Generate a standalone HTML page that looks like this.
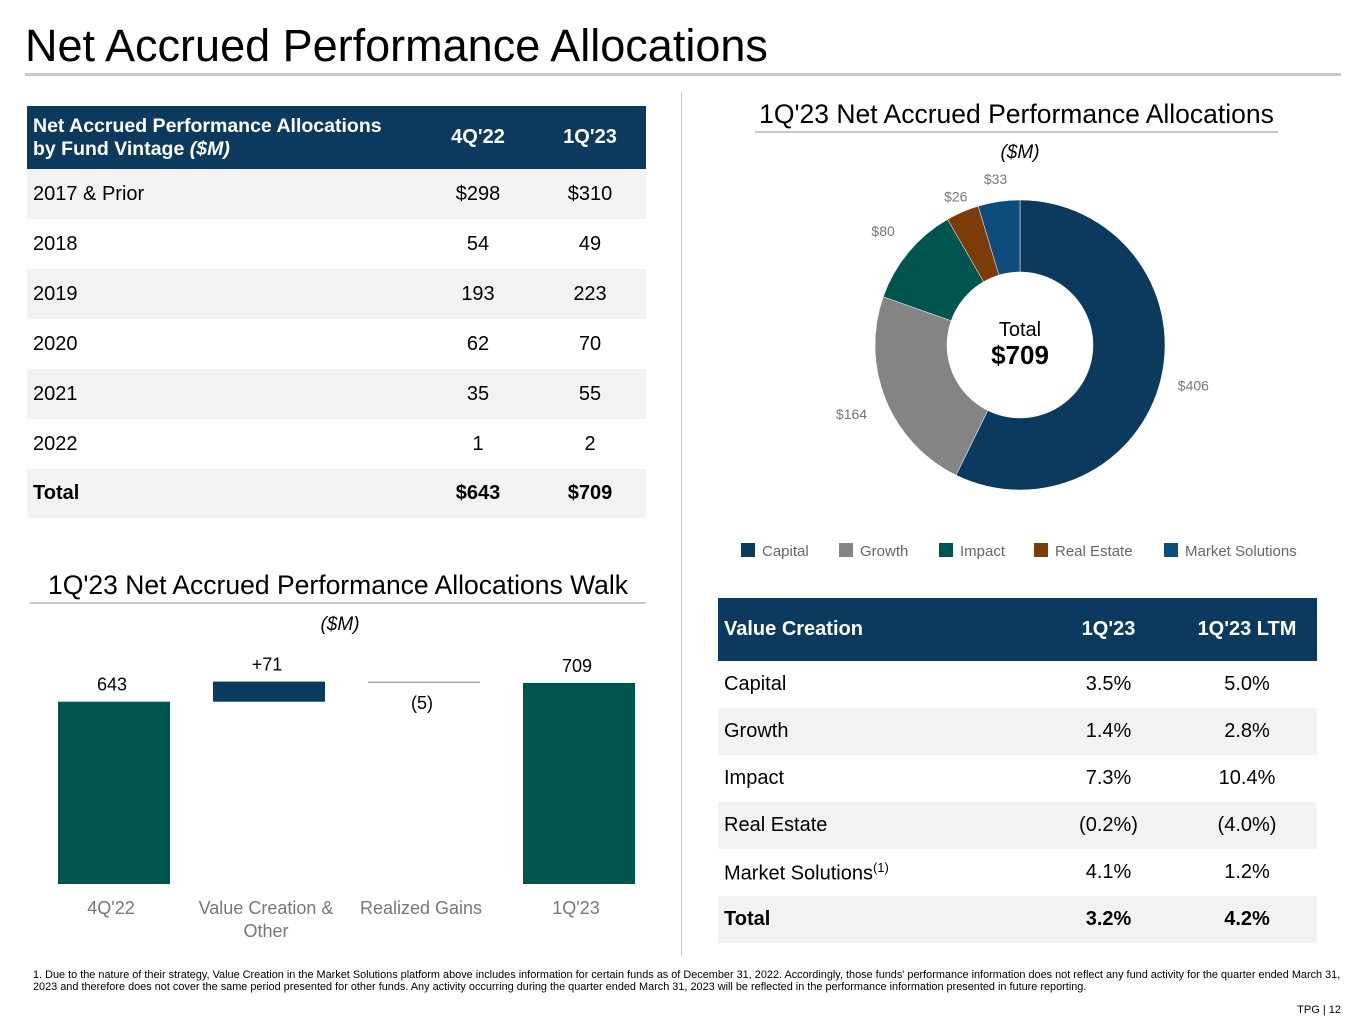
<!DOCTYPE html>
<html><head><meta charset="utf-8"><style>
body{margin:0;width:1365px;height:1024px;background:#fff;font-family:"Liberation Sans",sans-serif;position:relative;overflow:hidden;color:#000}
.abs{position:absolute}
table{border-collapse:collapse;position:absolute}
td{padding:0 6px;font-size:20px}
</style></head><body>
<div class="abs" style="left:25px;top:20px;font-size:45px">Net Accrued Performance Allocations</div>
<div class="abs" style="left:25px;top:73px;width:1316px;height:3px;background:#c8c8c8"></div>
<div class="abs" style="left:681px;top:92px;width:1px;height:864px;background:#d0d0d0"></div>

<table style="left:27px;top:106px;width:619px">
<tr style="background:#0b3a5e;color:#fff;height:63px;font-weight:bold"><td style="font-size:19.5px;padding-left:6px">Net Accrued Performance Allocations<br>by Fund Vintage <i>($M)</i></td><td style="text-align:center;width:100px">4Q'22</td><td style="text-align:center;width:100px">1Q'23</td></tr>
<tr style="background:#f2f2f2;height:50px"><td>2017 &amp; Prior</td><td style="text-align:center">$298</td><td style="text-align:center">$310</td></tr>
<tr style="height:50px"><td>2018</td><td style="text-align:center">54</td><td style="text-align:center">49</td></tr>
<tr style="background:#f2f2f2;height:50px"><td>2019</td><td style="text-align:center">193</td><td style="text-align:center">223</td></tr>
<tr style="height:50px"><td>2020</td><td style="text-align:center">62</td><td style="text-align:center">70</td></tr>
<tr style="background:#f2f2f2;height:50px"><td>2021</td><td style="text-align:center">35</td><td style="text-align:center">55</td></tr>
<tr style="height:50px"><td>2022</td><td style="text-align:center">1</td><td style="text-align:center">2</td></tr>
<tr style="background:#f2f2f2;height:49px;font-weight:bold"><td>Total</td><td style="text-align:center">$643</td><td style="text-align:center">$709</td></tr>
</table>

<div class="abs" style="left:745px;top:99px;width:543px;text-align:center;font-size:26.5px">1Q'23 Net Accrued Performance Allocations</div>
<div class="abs" style="left:755px;top:131px;width:523px;height:2px;background:#c8c8c8"></div>
<div class="abs" style="left:955px;top:142px;width:130px;text-align:center;font-size:19px;font-style:italic">($M)</div>
<svg id="donut" class="abs" style="left:0;top:0" width="1365" height="1024"></svg>

<div class="abs" style="left:20px;top:570px;width:636px;text-align:center;font-size:26.5px">1Q'23 Net Accrued Performance Allocations Walk</div>
<div class="abs" style="left:30px;top:602px;width:616px;height:2px;background:#c8c8c8"></div>
<div class="abs" style="left:275px;top:614px;width:130px;text-align:center;font-size:19px;font-style:italic">($M)</div>
<svg id="walk" class="abs" style="left:0;top:0" width="1365" height="1024"></svg>

<table style="left:718px;top:598px;width:599px">
<tr style="background:#0b3a5e;color:#fff;height:63px;font-weight:bold"><td>Value Creation</td><td style="text-align:center;width:125px">1Q'23</td><td style="text-align:center;width:128px">1Q'23 LTM</td></tr>
<tr style="height:47px"><td>Capital</td><td style="text-align:center">3.5%</td><td style="text-align:center">5.0%</td></tr>
<tr style="background:#f2f2f2;height:47px"><td>Growth</td><td style="text-align:center">1.4%</td><td style="text-align:center">2.8%</td></tr>
<tr style="height:47px"><td>Impact</td><td style="text-align:center">7.3%</td><td style="text-align:center">10.4%</td></tr>
<tr style="background:#f2f2f2;height:47px"><td>Real Estate</td><td style="text-align:center">(0.2%)</td><td style="text-align:center">(4.0%)</td></tr>
<tr style="height:47px"><td>Market Solutions<sup style="font-size:13px">(1)</sup></td><td style="text-align:center">4.1%</td><td style="text-align:center">1.2%</td></tr>
<tr style="background:#f2f2f2;height:47px;font-weight:bold"><td>Total</td><td style="text-align:center">3.2%</td><td style="text-align:center">4.2%</td></tr>
</table>

<div class="abs" style="left:33px;top:969px;width:1312px;font-size:10.9px;line-height:12px">1. Due to the nature of their strategy, Value Creation in the Market Solutions platform above includes information for certain funds as of December 31, 2022. Accordingly, those funds' performance information does not reflect any fund activity for the quarter ended March 31, 2023 and therefore does not cover the same period presented for other funds. Any activity occurring during the quarter ended March 31, 2023 will be reflected in the performance information presented in future reporting.</div>
<div class="abs" style="right:24px;top:1004px;font-size:11px">TPG | 12</div>

<script>
const NS='http://www.w3.org/2000/svg';
const segNames=['Capital','Growth','Impact','Real Estate','Market Solutions'];
const segValues=[406,164,80,26,33];
const segLabels=['$406','$164','$80','$26','$33'];
const segColors=['#0b3a5e','#848484','#00544f','#7b3c09','#0e4c7b'];
const walkCats=["4Q'22","Value Creation &\nOther","Realized Gains","1Q'23"];
const walkValues=[643,71,-5,709];
const walkLabels=['643','+71','(5)','709'];

function mk(p,t,a){const e=document.createElementNS(NS,t);for(const k in a)e.setAttribute(k,a[k]);p.appendChild(e);return e;}
const d=document.getElementById('donut');
const cx=1020,cy=345,R=145,r=73;
const tot=segValues.reduce((a,b)=>a+b,0);
function pt(a,rad){return [cx+rad*Math.sin(a),cy-rad*Math.cos(a)];}
const labR=[178,182,178,162,168];
let a0=0;
segValues.forEach((v,i)=>{
  const a1=a0+v/tot*2*Math.PI;const lg=(a1-a0)>Math.PI?1:0;
  const p1=pt(a0,R),p2=pt(a1,R),p3=pt(a1,r),p4=pt(a0,r);
  const s=mk(d,'path',{d:`M${p1}A${R},${R} 0 ${lg} 1 ${p2}L${p3}A${r},${r} 0 ${lg} 0 ${p4}Z`,fill:segColors[i],stroke:'#fff','stroke-width':0.5});
  
  
  const am=(a0+a1)/2;const lp=pt(am,labR[i]);
  const t=mk(d,'text',{x:lp[0],y:lp[1]+5,'text-anchor':'middle','font-size':14,fill:'#777'});t.textContent=segLabels[i];
  
  
  a0=a1;
});
const t1=mk(d,'text',{x:cx,y:336,'text-anchor':'middle','font-size':20});t1.textContent='Total';


const t2=mk(d,'text',{x:cx,y:364,'text-anchor':'middle','font-size':26,'font-weight':'bold'});t2.textContent='$'+tot;


const legX=[741,839,939,1034,1164];
segNames.forEach((n,i)=>{
  const g=mk(d,'g',{});
  
  
  mk(g,'rect',{x:legX[i],y:543,width:14,height:14,fill:segColors[i]});
  const t=mk(g,'text',{x:legX[i]+21,y:556,'font-size':15,fill:'#666'});t.textContent=n;
});
const w=document.getElementById('walk');
const base=884,sc=(884-683)/709;
const y=v=>base-v*sc;
const bx=[58,213,368,523],bw=112;
let run=0;
walkValues.forEach((v,i)=>{
  let top,bot,col;
  if(i===0||i===walkValues.length-1){top=y(v);bot=base;col='#00544f';run=v;}
  else{const n=run+v;top=y(Math.max(run,n));bot=y(Math.min(run,n));col=v>=0?'#0b3a5e':'#a6a6a6';run=n;}
  const h=Math.max(bot-top,1.5);
  const b=mk(w,'rect',{x:bx[i],y:top,width:bw,height:h,fill:col});
  
  
  const ly=v<0?bot+26:top-11;
  const t=mk(w,'text',{x:bx[i]+bw/2-2,y:ly,'text-anchor':'middle','font-size':18});t.textContent=walkLabels[i];
  
  
  walkCats[i].split('\n').forEach((ln,j)=>{
    const c=mk(w,'text',{x:bx[i]+bw/2-3,y:914+j*23,'text-anchor':'middle','font-size':18,fill:'#777'});c.textContent=ln;
    
    
  });
});
</script>
</body></html>
